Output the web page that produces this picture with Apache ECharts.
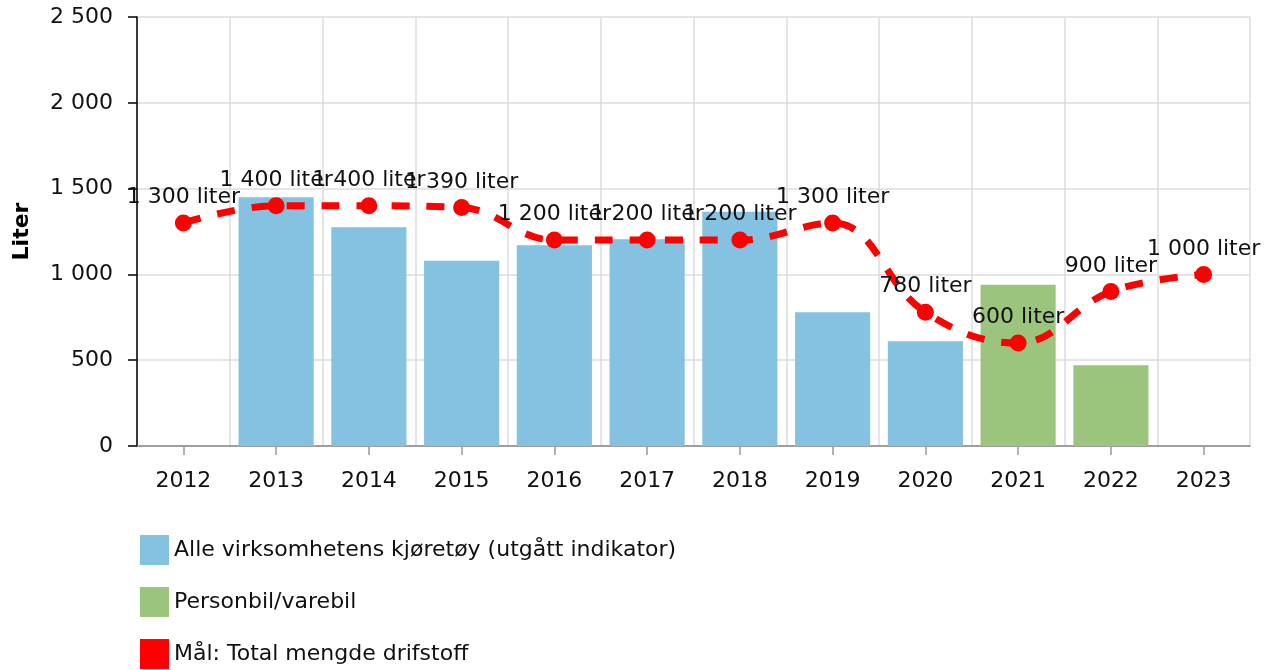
<!DOCTYPE html>
<html>
<head>
<meta charset="utf-8">
<script src="https://cdn.jsdelivr.net/npm/echarts@6/dist/echarts.min.js"></script>
<style>
  html, body { margin: 0; padding: 0; background: #fff; }
  #chart { width: 1273px; height: 670px; }
</style>
</head>
<body>
<div id="chart"></div>
<script>
  // data
  var years = ['2012', '2013', '2014', '2015', '2016', '2017', '2018', '2019', '2020', '2021', '2022', '2023'];
  var alleKjoretoy = ['-', 1450, 1275, 1080, 1170, 1205, 1365, 780, 610, '-', '-', '-'];
  var personbil = ['-', '-', '-', '-', '-', '-', '-', '-', '-', 940, 470, '-'];
  var maal = [1300, 1400, 1400, 1390, 1200, 1200, 1200, 1300, 780, 600, 900, 1000];
  var yTicks = [0, 500, 1000, 1500, 2000, 2500];

  var font = '"DejaVu Sans", Verdana, sans-serif';

  // 1300 -> "1 300"
  function fmt(v) {
    return String(v).replace(/\B(?=(\d{3})+(?!\d))/g, ' ');
  }

  var chart = echarts.init(document.getElementById('chart'));
  chart.setOption({
    animation: false,
    textStyle: {fontFamily: font},
    grid: {left: 137, right: 23, top: 17, bottom: 224},
    legend: {
      orient: 'vertical',
      left: 135,
      top: 530,
      height: 140,
      itemWidth: 29,
      itemHeight: 30,
      itemGap: 22,
      textStyle: {fontFamily: font, fontSize: 22, color: '#111'},
      data: [
        {name: 'Alle virksomhetens kjøretøy (utgått indikator)', icon: 'rect'},
        {name: 'Personbil/varebil', icon: 'rect'},
        {name: 'Mål: Total mengde drifstoff', icon: 'rect', itemStyle: {color: '#ff0000'}, lineStyle: {opacity: 0}}
      ]
    },
    xAxis: {
      type: 'category',
      data: years,
      axisLine: {lineStyle: {color: '#888', width: 1.5}},
      axisTick: {show: true, alignWithLabel: true, length: 9, lineStyle: {color: '#999', width: 1.5}},
      axisLabel: {fontFamily: font, fontSize: 22, color: '#111', margin: 24},
      splitLine: {show: true, lineStyle: {color: '#dcdcdc', width: 1.5}}
    },
    yAxis: {
      type: 'value',
      min: 0,
      max: yTicks[yTicks.length - 1],
      interval: 500,
      name: 'Liter',
      nameLocation: 'middle',
      nameGap: 104,
      nameTextStyle: {fontFamily: font, fontSize: 22, fontWeight: 'bold', color: '#000'},
      axisLine: {show: true, lineStyle: {color: '#000', width: 1.5}},
      axisTick: {show: true, length: 9, lineStyle: {color: '#000', width: 1.5}},
      axisLabel: {fontFamily: font, fontSize: 22, color: '#111', margin: 24, formatter: function (v) { return fmt(v); }},
      splitLine: {show: true, lineStyle: {color: '#dcdcdc', width: 1.5}}
    },
    series: [
      {
        name: 'Alle virksomhetens kjøretøy (utgått indikator)',
        type: 'bar',
        stack: 'bars',
        barWidth: '81%',
        data: alleKjoretoy,
        itemStyle: {color: '#85c1e1'}
      },
      {
        name: 'Personbil/varebil',
        type: 'bar',
        stack: 'bars',
        barWidth: '81%',
        data: personbil,
        itemStyle: {color: '#9bc57d'}
      },
      {
        name: 'Mål: Total mengde drifstoff',
        type: 'line',
        smooth: 0.4,
        data: maal,
        symbol: 'circle',
        symbolSize: 17,
        itemStyle: {color: '#ff0000'},
        lineStyle: {color: '#ff0000', width: 7, type: [18, 17]},
        label: {
          show: true,
          position: 'top',
          distance: 6,
          fontFamily: font,
          fontSize: 22,
          color: '#111',
          formatter: function (p) { return fmt(p.value) + ' liter'; }
        },
        z: 5
      }
    ]
  });
</script>
</body>
</html>
